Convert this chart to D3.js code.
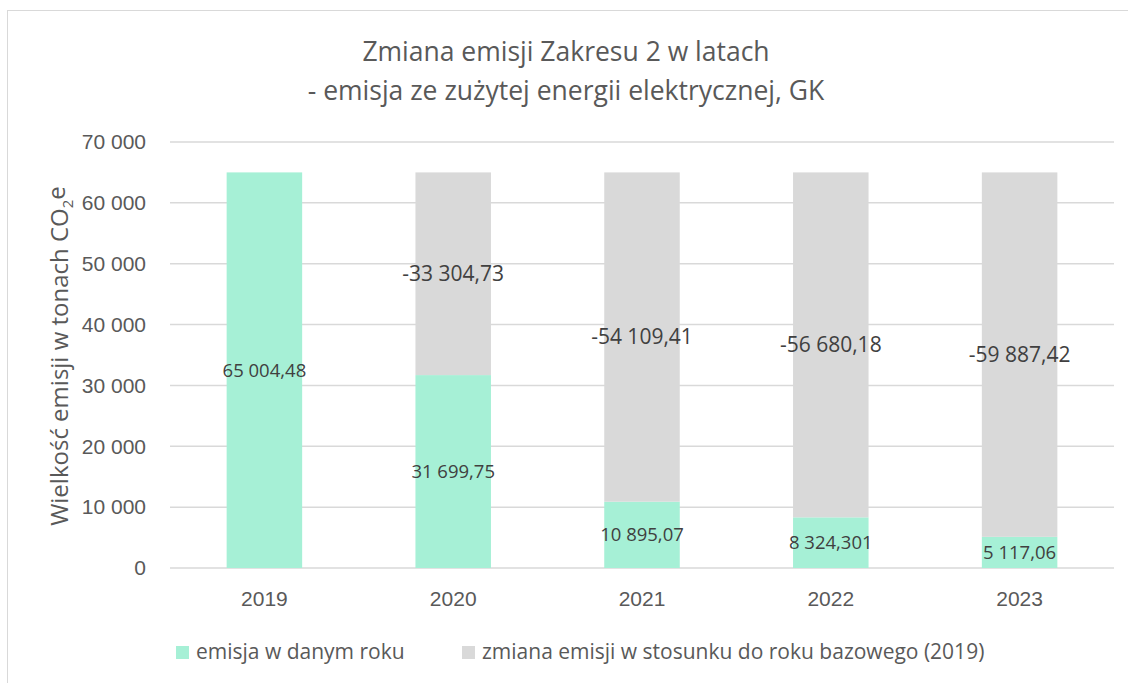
<!DOCTYPE html>
<html lang="pl">
<head>
  <meta charset="UTF-8">
  <title>Zmiana emisji Zakresu 2 w latach</title>
  <script src="https://d3js.org/d3.v7.min.js"></script>
  <style>
    body { margin: 0; background: #fff; font-family: "Open Sans", sans-serif; }
    svg text { fill: #595959; }
  </style>
</head>
<body>
<svg width="1128" height="683"></svg>
<script>
const years = ["2019", "2020", "2021", "2022", "2023"];
const emission = [65004.48, 31699.75, 10895.07, 8324.301, 5117.06];
const change = [0, -33304.73, -54109.41, -56680.18, -59887.42];
const emissionLabels = ["65 004,48", "31 699,75", "10 895,07", "8 324,301", "5 117,06"];
const changeLabels = ["", "-33 304,73", "-54 109,41", "-56 680,18", "-59 887,42"];
const yTicks = [0, 10000, 20000, 30000, 40000, 50000, 60000, 70000];
const seriesNames = ["emisja w danym roku", "zmiana emisji w stosunku do roku bazowego (2019)"];
const colors = ["#a6f0d6", "#d9d9d9"];

const svg = d3.select("svg");
const margin = {top: 142, right: 14, bottom: 115, left: 170};
const width = 1128 - margin.left - margin.right,
      height = 683 - margin.top - margin.bottom;

// chart frame
svg.append("rect")
  .attr("x", 7.5).attr("y", 10.5)
  .attr("width", 1140).attr("height", 700)
  .attr("fill", "none").attr("stroke", "#d9d9d9");

const g = svg.append("g").attr("transform", `translate(${margin.left},${margin.top})`);

const x = d3.scaleBand().domain(years).range([0, width]).paddingInner(0.6).paddingOuter(0.3);
const y = d3.scaleLinear().domain([0, 70000]).range([height, 0]);

// gridlines
g.selectAll(".grid").data(yTicks).enter().append("line")
  .attr("x1", 0).attr("x2", width)
  .attr("y1", d => y(d)).attr("y2", d => y(d))
  .attr("stroke", "#d9d9d9").attr("stroke-width", 1.5);

// y axis
const fmt = d => d3.format(",")(d).replace(/,/g, " ");
const yAxis = g.append("g").call(d3.axisLeft(y).tickValues(yTicks).tickFormat(fmt).tickSize(0).tickPadding(24));
yAxis.select(".domain").remove();
yAxis.selectAll("text").style("font-size", "21px").attr("fill", "#595959");

// x axis
const xAxis = g.append("g").attr("transform", `translate(0,${height})`)
  .call(d3.axisBottom(x).tickSize(0).tickPadding(23));
xAxis.select(".domain").remove();
xAxis.selectAll("text").style("font-size", "21px").attr("fill", "#595959");

const stacked = years.map((yr, i) => ({
  year: yr, e: emission[i], c: Math.abs(change[i]), el: emissionLabels[i], cl: changeLabels[i]
}));

// bars
g.selectAll(".bar-e").data(stacked).enter().append("rect")
  .attr("x", d => x(d.year)).attr("width", x.bandwidth())
  .attr("y", d => y(d.e)).attr("height", d => y(0) - y(d.e))
  .attr("fill", colors[0]);

g.selectAll(".bar-c").data(stacked.filter(d => d.c > 0)).enter().append("rect")
  .attr("x", d => x(d.year)).attr("width", x.bandwidth())
  .attr("y", d => y(d.e + d.c)).attr("height", d => y(d.e) - y(d.e + d.c))
  .attr("fill", colors[1]);

// labels
g.selectAll(".lab-e").data(stacked).enter().append("text")
  .attr("x", d => x(d.year) + x.bandwidth() / 2)
  .attr("y", d => y(d.e / 2))
  .attr("dy", "0.35em")
  .attr("text-anchor", "middle")
  .style("font-size", "18.5px").style("fill", "#404040")
  .text(d => d.el);

g.selectAll(".lab-c").data(stacked.filter(d => d.c > 0)).enter().append("text")
  .attr("x", d => x(d.year) + x.bandwidth() / 2)
  .attr("y", d => y(d.e + d.c / 2))
  .attr("dy", "0.35em")
  .attr("text-anchor", "middle")
  .style("font-size", "21px").style("fill", "#404040")
  .text(d => d.cl);

// title
const title = svg.append("text").attr("text-anchor", "middle").style("font-size", "26.5px");
title.append("tspan").attr("x", 566).attr("y", 61).text("Zmiana emisji Zakresu 2 w latach");
title.append("tspan").attr("x", 566).attr("y", 100).text("- emisja ze zużytej energii elektrycznej, GK");

// y axis title
const yt = svg.append("text")
  .attr("transform", `translate(68,356) rotate(-90)`)
  .attr("text-anchor", "middle").style("font-size", "24px");
yt.append("tspan").text("Wielkość emisji w tonach CO");
yt.append("tspan").attr("dy", "0.3em").style("font-size", "15px").text("2");
yt.append("tspan").attr("dy", "-0.3em").text("e");

// legend
const legendX = [176, 462];
seriesNames.forEach((name, i) => {
  svg.append("rect").attr("x", legendX[i]).attr("y", 646).attr("width", 13).attr("height", 13).attr("fill", colors[i]);
  svg.append("text").attr("x", legendX[i] + 20).attr("y", 658.5).style("font-size", "21px").text(name);
});
</script>
</body>
</html>
